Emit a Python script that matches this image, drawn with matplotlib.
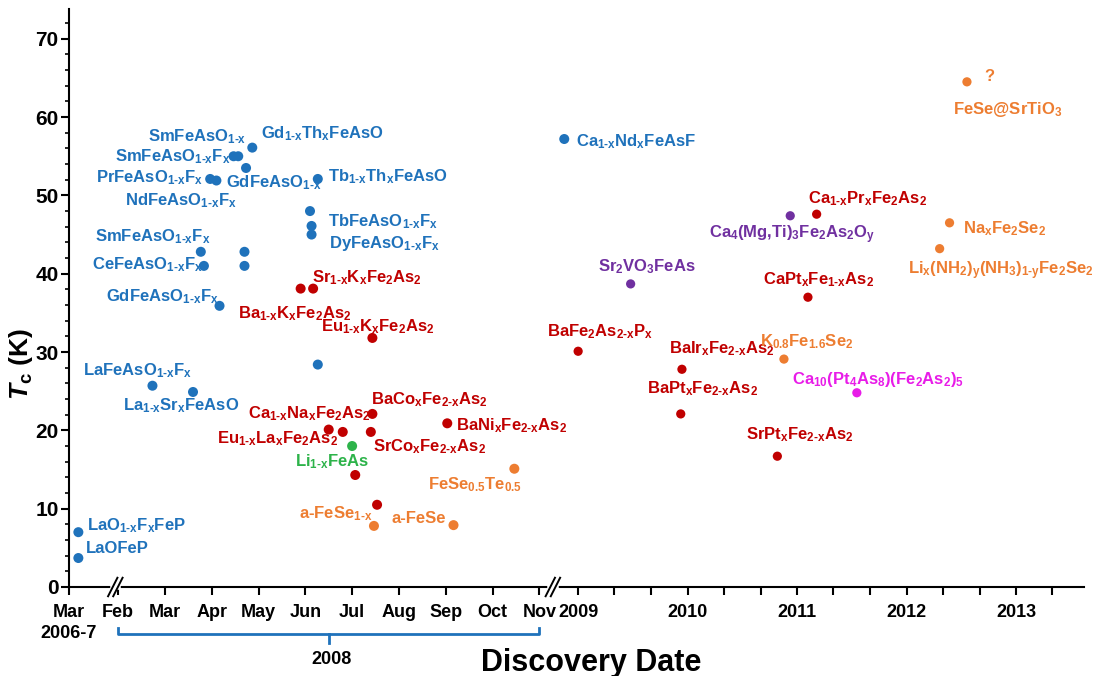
"""Tc of iron-based superconductors versus discovery date (broken time axis)."""
import re

import matplotlib as mpl
import matplotlib.pyplot as plt
import pandas as pd
from matplotlib.ticker import MultipleLocator

mpl.rcParams.update({
    "font.family": "Liberation Sans",
    "font.weight": "bold",
    "mathtext.fontset": "custom",
    "mathtext.rm": "Liberation Sans:bold",
    "mathtext.it": "Liberation Sans:italic:bold",
    "mathtext.bf": "Liberation Sans:bold",
    "mathtext.default": "regular",
    "axes.linewidth": 1.5,
})

C = {
    "1111": "#1f72bb",   # blue
    "122":  "#c00000",   # dark red
    "111":  "#2db34a",   # green
    "11":   "#ed7d31",   # orange
    "perov": "#7030a0",  # purple
    "10-4-8": "#e81ce8", # magenta
}

# ----------------- Data (discovery date, Tc in K) ------------------------
dates_1111 = ["2006-03-01", "2007-03-01",
              "2008-02-23", "2008-03-19", "2008-03-24", "2008-03-26",
              "2008-03-30", "2008-04-04", "2008-04-06", "2008-04-15",
              "2008-04-18", "2008-04-22", "2008-04-22", "2008-04-23",
              "2008-04-27", "2008-06-04", "2008-06-05", "2008-06-05",
              "2008-06-09", "2008-06-09", "2008-11-17"]
tc_1111 = [3.7, 7.0,
           25.7, 24.9, 42.8, 41.0,
           52.1, 51.9, 35.9, 55.0,
           55.0, 42.8, 41.0, 53.5,
           56.1, 48.0, 46.1, 45.0,
           52.1, 28.4, 57.2]

dates_122 = ["2008-05-28", "2008-06-06", "2008-06-16", "2008-06-25",
             "2008-07-03", "2008-07-13", "2008-07-14", "2008-07-14",
             "2008-07-17", "2008-09-02",
             "2009-01-01", "2009-12-09", "2009-12-13", "2010-10-27",
             "2011-02-06", "2011-03-07"]
tc_122 = [38.1, 38.1, 20.1, 19.8,
          14.3, 19.8, 22.1, 31.8,
          10.5, 20.9,
          30.1, 22.1, 27.8, 16.7,
          37.0, 47.6]

dates_111 = ["2008-07-01"]
tc_111 = [18.0]

dates_11 = ["2008-07-15", "2008-09-06", "2008-10-15", "2010-11-18",
            "2012-04-20", "2012-05-23", "2012-07-20"]
tc_11 = [7.8, 7.9, 15.1, 29.1, 43.2, 46.5, 64.5]

dates_perov = ["2009-06-25", "2010-12-09"]
tc_perov = [38.7, 47.4]

dates_1048 = ["2011-07-19"]
tc_1048 = [24.8]

month_labels = ["Feb", "Mar", "Apr", "May", "Jun", "Jul", "Aug", "Sep", "Oct", "Nov"]
years = [2009, 2010, 2011, 2012, 2013]

# label text ({...} = subscript), colour, left x / cap-centre y in px
labels = [
    ("SmFeAsO{1-x}", "1111", 148, 135),
    ("Gd{1-x}Th{x}FeAsO", "1111", 261, 132),
    ("SmFeAsO{1-x}F{x}", "1111", 115, 155),
    ("PrFeAsO{1-x}F{x}", "1111", 96, 176),
    ("GdFeAsO{1-x}", "1111", 226, 181),
    ("Tb{1-x}Th{x}FeAsO", "1111", 328, 175),
    ("NdFeAsO{1-x}F{x}", "1111", 125, 199),
    ("TbFeAsO{1-x}F{x}", "1111", 328, 220),
    ("DyFeAsO{1-x}F{x}", "1111", 329, 242),
    ("SmFeAsO{1-x}F{x}", "1111", 95, 235),
    ("CeFeAsO{1-x}F{x}", "1111", 92, 263),
    ("GdFeAsO{1-x}F{x}", "1111", 106, 295),
    ("LaFeAsO{1-x}F{x}", "1111", 83, 369),
    ("La{1-x}Sr{x}FeAsO", "1111", 123, 404),
    ("LaO{1-x}F{x}FeP", "1111", 87, 524),
    ("LaOFeP", "1111", 86, 547),
    ("Ca{1-x}Nd{x}FeAsF", "1111", 576, 140),
    ("Sr{1-x}K{x}Fe{2}As{2}", "122", 312, 276),
    ("Ba{1-x}K{x}Fe{2}As{2}", "122", 238, 312),
    ("Eu{1-x}K{x}Fe{2}As{2}", "122", 321, 325),
    ("BaCo{x}Fe{2-x}As{2}", "122", 371, 398),
    ("Ca{1-x}Na{x}Fe{2}As{2}", "122", 248, 412),
    ("BaNi{x}Fe{2-x}As{2}", "122", 456, 424),
    ("Eu{1-x}La{x}Fe{2}As{2}", "122", 217, 437),
    ("SrCo{x}Fe{2-x}As{2}", "122", 373, 445),
    ("Ca{1-x}Pr{x}Fe{2}As{2}", "122", 808, 197),
    ("CaPt{x}Fe{1-x}As{2}", "122", 763, 278),
    ("BaFe{2}As{2-x}P{x}", "122", 547, 330),
    ("BaIr{x}Fe{2-x}As{2}", "122", 669, 347),
    ("BaPt{x}Fe{2-x}As{2}", "122", 647, 387),
    ("SrPt{x}Fe{2-x}As{2}", "122", 746, 433),
    ("Li{1-x}FeAs", "111", 295, 460),
    ("FeSe{0.5}Te{0.5}", "11", 428, 483),
    ("a-FeSe{1-x}", "11", 299, 512),
    ("a-FeSe", "11", 391, 517),
    ("K{0.8}Fe{1.6}Se{2}", "11", 760, 340),
    ("Na{x}Fe{2}Se{2}", "11", 963, 227),
    ("Li{x}(NH{2}){y}(NH{3}){1-y}Fe{2}Se{2}", "11", 908, 268),
    ("FeSe@SrTiO{3}", "11", 953, 108),
    ("?", "11", 984, 75),
    ("Sr{2}VO{3}FeAs", "perov", 598, 265),
    ("Ca{4}(Mg,Ti){3}Fe{2}As{2}O{y}", "perov", 709, 232),
    ("Ca{10}(Pt{4}As{8})(Fe{2}As{2}){5}", "10-4-8", 792, 378),
]

# ----------------- Broken time axis -------------------------------------
W, H = 1099, 676
X_EARLY = -0.05   # "Mar 2006-7" column
P2009 = 10.83     # axis position of Jan 2009 (Feb 2008 = 1, one unit per month)
YEAR_W = 2.34     # axis units per year after the second break


def timeline(date):
    d = pd.Timestamp(date)
    if d.year < 2008:
        return X_EARLY + 0.2
    if d.year == 2008:
        return d.month - 1 + (d.day - 1) / 30
    return P2009 + (d.year - 2009 + (d.dayofyear - 1) / 365) * YEAR_W


def chem(s):
    return re.sub(r"\{([^}]*)\}", lambda m: r"$_{\text{" + m.group(1) + "}}$", s)


fig = plt.figure(figsize=(W / 100, H / 100), dpi=100)
ax = fig.add_axes([69 / W, (H - 587) / H, (1084 - 69) / W, (587 - 9) / H])

series = [(dates_1111, tc_1111, "1111"), (dates_122, tc_122, "122"),
          (dates_111, tc_111, "111"), (dates_11, tc_11, "11"),
          (dates_perov, tc_perov, "perov"), (dates_1048, tc_1048, "10-4-8")]
for dates, tc, key in series:
    xs = [timeline(d) for d in dates]
    sizes = [52 if pd.Timestamp(d).year <= 2008 else 44 for d in dates]
    ax.scatter(xs, tc, s=sizes, color=C[key], edgecolors="none", zorder=3)

for text, key, x, y in labels:
    fig.text(x / W, 1 - (y + 6) / H, chem(text), color=C[key], fontsize=12,
             ha="left", va="baseline")

# axes
ax.set_xlim(X_EARLY, 21.64)
ax.set_ylim(0, 73.8)
ax.spines[["top", "right"]].set_visible(False)
ax.yaxis.set_major_locator(MultipleLocator(10))
ax.yaxis.set_minor_locator(MultipleLocator(2))
ax.tick_params(axis="y", which="major", length=6, width=1.5, pad=1.5, labelsize=15)
ax.tick_params(axis="y", which="minor", length=3, width=1.2)

tick_pos = [X_EARLY] + list(range(1, 11))
tick_lab = ["Mar\n2006-7"] + month_labels
for y in years:
    for k, m in enumerate([1, 5, 9]):
        if y == 2013 and m == 9:
            continue
        tick_pos.append(timeline(f"{y}-{m:02d}-01"))
        tick_lab.append(str(y) if k == 0 else "")
ax.set_xticks(tick_pos)
ax.set_xticklabels(tick_lab, fontsize=13, linespacing=1.3)
ax.tick_params(axis="x", length=6, width=1.5, pad=6)

# axis breaks
xt = ax.get_xaxis_transform()
for xb in (0.94, 10.29):
    ax.plot([xb - 0.06, xb + 0.06], [0, 0], color="white", lw=4,
            transform=xt, clip_on=False, zorder=4)
    for dx in (-0.055, 0.055):
        ax.plot([xb + dx - 0.1, xb + dx + 0.1], [-0.016, 0.016], color="black",
                lw=1.4, transform=xt, clip_on=False, zorder=5)

# 2008 bracket
ax.plot([1, 1, 10, 10], [-0.071, -0.081, -0.081, -0.071], color="#1f72bb",
        lw=2, transform=xt, clip_on=False, solid_joinstyle="round")
ax.plot([5.5, 5.5], [-0.081, -0.097], color="#1f72bb", lw=2,
        transform=xt, clip_on=False)
ax.text(5.55, -0.126, "2008", transform=xt, ha="center", va="center", fontsize=13)

fig.text(21 / W, 1 - 364 / H, r"$\mathit{T}_{\text{c}}$ (K)", rotation=90,
         fontsize=19, ha="center", va="center")
fig.text(591 / W, 1 - 663 / H, "Discovery Date", fontsize=22,
         ha="center", va="center")

fig.savefig("out.png", dpi=100)
